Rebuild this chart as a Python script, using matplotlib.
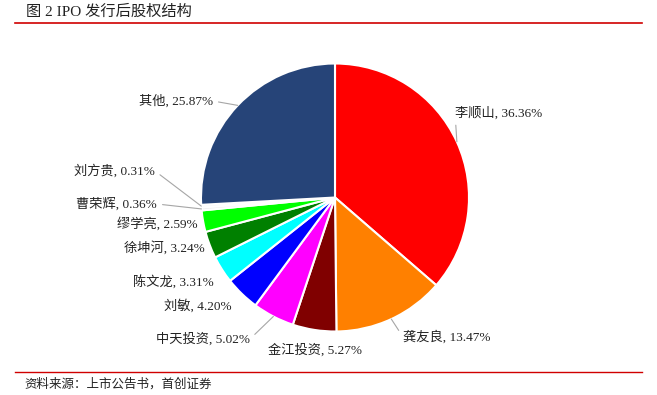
import numpy as np
import matplotlib
matplotlib.use('Agg')
import matplotlib.pyplot as plt

plt.rcParams['font.family'] = ['Liberation Serif', 'Noto Sans CJK SC', 'DejaVu Sans']

# data (percent of shares after IPO)
names = ['李顺山', '龚友良', '金江投资', '中天投资', '刘敏', '陈文龙',
         '徐坤河', '缪学亮', '曹荣辉', '刘方贵', '其他']
shares = [36.36, 13.47, 5.27, 5.02, 4.20, 3.31, 3.24, 2.59, 0.36, 0.31, 25.87]
colors = ['#FF0000', '#FF8000', '#800000', '#FF00FF', '#0000FF', '#00FFFF',
          '#008000', '#00FF00', '#EEEEEE', '#F2F2F2', '#264478']

W, H = 657, 395
fig = plt.figure(figsize=(W / 100, H / 100), dpi=100)
ax = fig.add_axes([0, 0, 1, 1])

cx, cy, r = 335, H - 197.5, 134
wedges, _ = ax.pie(shares, colors=colors, startangle=90, counterclock=False,
                   center=(cx, cy), radius=r,
                   wedgeprops=dict(edgecolor='white', linewidth=1.5))
ax.set_xlim(0, W)
ax.set_ylim(0, H)
ax.set_aspect('equal')
ax.axis('off')

# label anchor positions in pixels (x, y from top), alignment, draw leader
label_pos = [
    (455, 113, 'left', True),
    (403, 337, 'left', True),
    (315, 350, 'center', False),
    (250, 339, 'right', True),
    (232, 306, 'right', False),
    (214, 282, 'right', False),
    (205, 248, 'right', False),
    (198, 224, 'right', False),
    (157, 204, 'right', True),
    (155, 171, 'right', True),
    (213, 101, 'right', True),
]

for w, name, val, (lx, ly, ha, lead) in zip(wedges, names, shares, label_pos):
    mid = np.deg2rad((w.theta1 + w.theta2) / 2)
    px = cx + r * np.cos(mid)
    py = cy + r * np.sin(mid)
    txt = f'{name}, {val:.2f}%'
    ty = H - ly
    if lead:
        relx = 0 if ha == 'left' else 1
        ax.annotate(txt, xy=(px, py), xytext=(lx, ty), ha=ha, va='center',
                    fontsize=9.5, color='#222222',
                    arrowprops=dict(arrowstyle='-', color='#A6A6A6', lw=0.8,
                                    relpos=(relx, 0.5), shrinkA=2, shrinkB=0))
    else:
        ax.text(lx, ty, txt, ha=ha, va='center', fontsize=9.5, color='#222222')

# title and red rule
ax.text(26, H - 12, '图 2 IPO 发行后股权结构', ha='left', va='center',
        fontsize=11, color='#222222')
ax.plot([15, 642], [H - 23, H - 23], color='#D00000', lw=1.2)

# source line
ax.plot([15, 642], [H - 372, H - 372], color='#D00000', lw=1.0)
ax.text(24, H - 384, '资料来源：上市公告书，首创证券', ha='left', va='center',
        fontsize=9, style='italic', color='#222222')

fig.savefig('out.png', dpi=100)
plt.close()
